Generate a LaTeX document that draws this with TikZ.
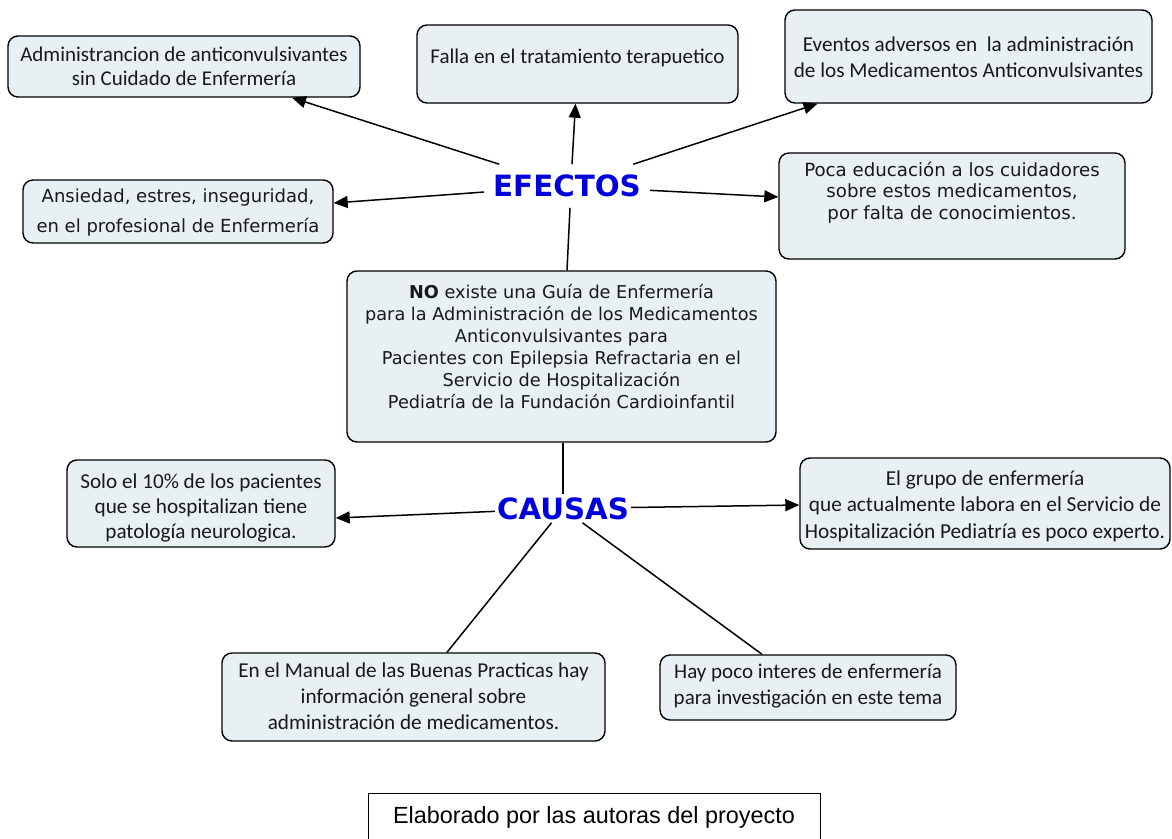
\documentclass[tikz,border=0pt]{standalone}
\usepackage{fontspec}
\setmainfont{Carlito}
\newfontfamily\verd{DejaVu Sans}
\newfontfamily\arl{Liberation Sans}
\usetikzlibrary{arrows.meta}
\definecolor{boxfill}{RGB}{233,240,244}
\definecolor{kwblue}{RGB}{0,0,220}
\definecolor{txt}{RGB}{25,25,25}
\newcommand{\boxtxt}[4]{\begin{minipage}[c][#2][t]{#1}\vspace*{#3}\centering\strut #4\end{minipage}}
\tikzset{
  bx/.style={draw, fill=boxfill, rounded corners=10pt, line width=1.4pt, inner sep=0pt, text=txt},
  kw/.style={font=\verd\bfseries\fontsize{29.3}{34}\selectfont, text=kwblue, inner xsep=9pt, inner ysep=10.5pt},
  conn/.style={line width=1.5pt},
  arr/.style={line width=1.5pt, -{Triangle[length=14pt,width=12pt]}}
}
\begin{document}
\begin{tikzpicture}[x=1pt,y=-1pt]
\useasboundingbox[fill=white] (0,0) rectangle (1172,838);
% boxes
\node[bx, font=\fontsize{21}{24}\selectfont] (b1) at (184,66.5)
  {\boxtxt{352pt}{61pt}{8.2pt}{Administrancion de anticonvulsivantes\\ sin Cuidado de Enfermería}};
\node[bx, font=\fontsize{21}{24}\selectfont] (b2) at (577.5,64)
  {\boxtxt{321pt}{78pt}{21.2pt}{Falla en el tratamiento terapuetico}};
\node[bx, font=\fontsize{21.2}{26.5}\selectfont] (b3) at (968.5,56.5)
  {\boxtxt{367pt}{93pt}{22.5pt}{Eventos adversos en\ \ la administración\\ de los Medicamentos Anticonvulsivantes}};
\node[bx, font=\verd\fontsize{18}{30}\selectfont] (b4) at (178,211.5)
  {\boxtxt{310pt}{63pt}{1.2pt}{Ansiedad, estres, inseguridad,\\ en el profesional de Enfermería}};
\node[bx, font=\verd\fontsize{18.2}{21.5}\selectfont] (b5) at (952,206)
  {\boxtxt{346pt}{106pt}{8pt}{Poca educación a los cuidadores\\ sobre estos medicamentos,\\ por falta de conocimientos.}};
\node[bx, font=\verd\fontsize{17.7}{22}\selectfont] (b6) at (561.5,356.5)
  {\boxtxt{429pt}{171pt}{11.6pt}{\textbf{NO} existe una Guía de Enfermería\\ para la Administración de los Medicamentos\\ Anticonvulsivantes para\\ Pacientes con Epilepsia Refractaria en el\\ Servicio de Hospitalización\\ Pediatría de la Fundación Cardioinfantil}};
\node[bx, font=\fontsize{21.2}{25}\selectfont] (b7) at (201,503.5)
  {\boxtxt{268pt}{87pt}{10.5pt}{Solo el 10\% de los pacientes\\ que se hospitalizan tiene\\ patología neurologica.}};
\node[bx, font=\fontsize{21.3}{26.5}\selectfont] (b8) at (985,503.5)
  {\boxtxt{370pt}{91pt}{8.45pt}{El grupo de enfermería\\ que actualmente labora en el Servicio de\\ Hospitalización Pediatría es poco experto.}};
\node[bx, font=\fontsize{21.2}{26}\selectfont] (b9) at (413.5,697)
  {\boxtxt{383pt}{88pt}{5.8pt}{En el Manual de las Buenas Practicas hay\\ información general sobre\\ administración de medicamentos.}};
\node[bx, font=\fontsize{21}{26}\selectfont] (b10) at (808,687.5)
  {\boxtxt{296pt}{65pt}{4.8pt}{Hay poco interes de enfermería\\ para investigación en este tema}};
\node[draw, line width=1pt, fill=white, inner sep=0pt, font=\arl\fontsize{23.4}{28}\selectfont, text=black] (cap) at (594,826.5)
  {\boxtxt{452pt}{67pt}{10.4pt}{Elaborado por las autoras del proyecto}};
% keywords
\node[kw] (ef) at (567,186) {EFECTOS};
\node[kw, inner xsep=2pt, inner ysep=3pt] (ca) at (563,508.5) {CAUSAS};
% connectors
\draw[arr] (ef) -- ([xshift=108pt]b1.south);
\draw[arr] ([xshift=5pt]ef.north) -- ([xshift=-2pt]b2.south);
\draw[arr] (ef) -- ([xshift=-151pt]b3.south);
\draw[arr] (ef) -- ([yshift=8.5pt]b4.east);
\draw[arr] (ef) -- ([yshift=9pt]b5.west);
\draw[conn] ([xshift=3pt]ef.south) -- (ef.south |- b6.north);
\draw[conn] (b6.south -| ca.north) -- (ca.north);
\draw[arr] (ca) -- ([yshift=-14.5pt]b7.east);
\draw[arr] (ca) -- ([yshift=-1.5pt]b8.west);
\draw[conn] (ca) -- ([xshift=33.5pt]b9.north);
\draw[conn] (ca) -- ([xshift=-46pt]b10.north);
\end{tikzpicture}
\end{document}
